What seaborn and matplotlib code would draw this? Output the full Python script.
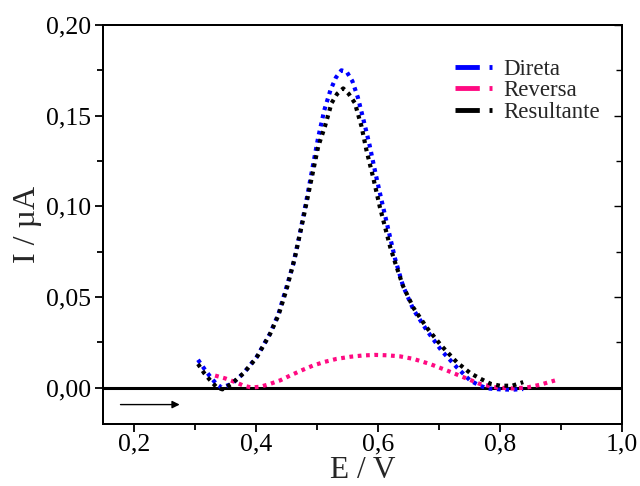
import numpy as np
import pandas as pd
import matplotlib
matplotlib.use("Agg")
import matplotlib.pyplot as plt
from matplotlib.lines import Line2D
from matplotlib.ticker import MultipleLocator, FuncFormatter
import seaborn as sns

# Direta (forward)
direta_E = [0.305, 0.315, 0.325, 0.335, 0.344, 0.36, 0.38, 0.401, 0.423, 0.437,
            0.450, 0.461, 0.472, 0.482, 0.492, 0.502, 0.512, 0.522, 0.531, 0.540,
            0.549, 0.558, 0.567, 0.576, 0.586, 0.596, 0.606, 0.617, 0.628, 0.641,
            0.658, 0.680, 0.704, 0.729, 0.751, 0.767, 0.78, 0.80, 0.82, 0.838]
direta_I = [0.0153, 0.0105, 0.006, 0.002, 0.0, 0.002, 0.008, 0.0168, 0.0297, 0.0407,
            0.0554, 0.068, 0.085, 0.102, 0.120, 0.138, 0.153, 0.164, 0.171, 0.175,
            0.174, 0.169, 0.160, 0.148, 0.134, 0.118, 0.103, 0.087, 0.071, 0.056,
            0.043, 0.0315, 0.0204, 0.0112, 0.0039, 0.001, -0.0005, -0.001, -0.0012, -0.0008]

# Reversa (reverse)
reversa_E = [0.333, 0.35, 0.366, 0.38, 0.393, 0.408, 0.423, 0.44, 0.456, 0.475,
             0.494, 0.513, 0.532, 0.555, 0.576, 0.595, 0.614, 0.636, 0.658, 0.685,
             0.713, 0.740, 0.767, 0.795, 0.82, 0.844, 0.865, 0.890]
reversa_I = [0.0066, 0.005, 0.003, 0.001, 0.0, 0.0005, 0.002, 0.004, 0.0066, 0.0095,
             0.0122, 0.0142, 0.0158, 0.0170, 0.0177, 0.0180, 0.0178, 0.0172, 0.0158, 0.013,
             0.0094, 0.0057, 0.002, 0.0, -0.0005, 0.0, 0.0015, 0.0039]

# Resultante (net)
result_E = [0.305, 0.315, 0.325, 0.336, 0.345, 0.36, 0.38, 0.401, 0.423, 0.437,
            0.450, 0.464, 0.478, 0.486, 0.494, 0.502, 0.513, 0.524, 0.533, 0.543,
            0.552, 0.562, 0.573, 0.581, 0.592, 0.603, 0.620, 0.628, 0.641, 0.658,
            0.680, 0.704, 0.729, 0.751, 0.767, 0.785, 0.80, 0.82, 0.838]
result_I = [0.013, 0.008, 0.004, 0.0, -0.001, 0.002, 0.008, 0.0165, 0.0295, 0.040,
            0.054, 0.072, 0.094, 0.107, 0.120, 0.133, 0.144, 0.157, 0.162, 0.165,
            0.162, 0.157, 0.144, 0.131, 0.116, 0.0996, 0.0775, 0.069, 0.056, 0.044,
            0.033, 0.023, 0.014, 0.008, 0.005, 0.002, 0.001, 0.001, 0.003]

labels = ["Direta", "Reversa", "Resultante"]
colors = ["#0000ff", "#ff0a82", "#000000"]

sns.set_style("ticks")
plt.rcParams["font.family"] = ["Liberation Serif", "DejaVu Serif"]

fig = plt.figure(figsize=(6.4, 4.86), dpi=100)
ax = fig.add_axes([0.1616, 0.128, 0.8104, 0.8206])

series = [(direta_E, direta_I), (reversa_E, reversa_I), (result_E, result_I)]
for (E, I), lab, c in zip(series, labels, colors):
    df = pd.DataFrame({"E": E, "I": I})
    sns.lineplot(data=df, x="E", y="I", ax=ax, color=c, lw=3.0,
                 dashes=False, sort=False, legend=False)
    ax.lines[-1].set_dashes((0.9, 1.1))

ax.axhline(0, color="black", lw=2.2, zorder=0)
ax.annotate("", xy=(0.275, -0.0094), xytext=(0.178, -0.0094),
            arrowprops=dict(arrowstyle="-|>", color="black", lw=1.0,
                            mutation_scale=11, shrinkA=0, shrinkB=0))

ax.set_xlim(0.15, 1.0)
ax.set_ylim(-0.02, 0.20)
ax.xaxis.set_major_locator(MultipleLocator(0.2))
ax.xaxis.set_minor_locator(MultipleLocator(0.1))
ax.yaxis.set_major_locator(MultipleLocator(0.05))
ax.yaxis.set_minor_locator(MultipleLocator(0.025))
ax.xaxis.set_major_formatter(FuncFormatter(lambda v, p: f"{v:.1f}".replace(".", ",")))
ax.yaxis.set_major_formatter(FuncFormatter(lambda v, p: f"{v:.2f}".replace(".", ",")))

ax.tick_params(which="both", direction="out", width=1.3, labelsize=18.5,
               top=False, right=False, colors="black")
ax.tick_params(which="major", length=6, pad=3)
ax.tick_params(axis="x", which="major", pad=1)
ax.tick_params(which="minor", length=4)
for s in ax.spines.values():
    s.set_linewidth(1.4)
    s.set_color("black")

# inward ticks on the right
ax2 = ax.twinx()
ax2.set_ylim(ax.get_ylim())
ax2.yaxis.set_major_locator(MultipleLocator(0.05))
ax2.yaxis.set_minor_locator(MultipleLocator(0.025))
ax2.tick_params(which="both", direction="in", width=1.0, labelright=False, colors="black")
ax2.tick_params(which="major", length=6)
ax2.tick_params(which="minor", length=4)
for s in ax2.spines.values():
    s.set_linewidth(1.4)
    s.set_color("black")

ax.set_xlabel("E / V", fontsize=22.5, va="bottom")
ax.xaxis.set_label_coords(0.5, -0.153)
ax.set_ylabel("I / µA", fontsize=23, labelpad=3)

handles = [Line2D([0], [0], color=c, lw=3.5, dashes=(5, 2, 1, 12)) for c in colors]
ax.legend(handles, labels, loc="upper left", bbox_to_anchor=(0.678, 0.915),
          frameon=False, fontsize=16.5, handlelength=1.6, handletextpad=0.5,
          labelspacing=0.02, borderpad=0, borderaxespad=0)

fig.savefig("out.png", dpi=100)
